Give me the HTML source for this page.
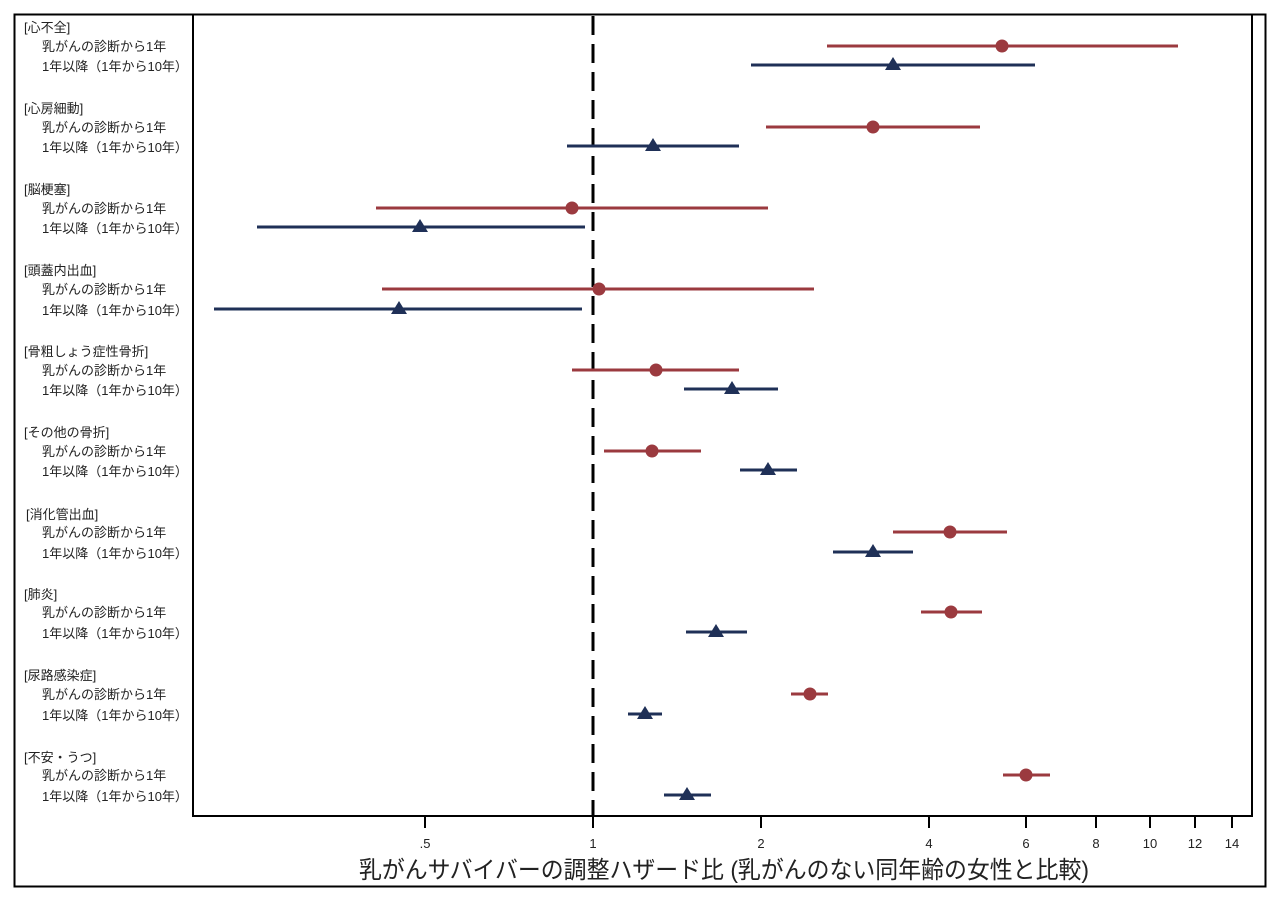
<!DOCTYPE html>
<html><head><meta charset="utf-8"><style>
body{margin:0;background:#fff}
svg text{font-family:"Liberation Sans","Noto Sans CJK JP",sans-serif;}
</style></head><body>
<svg width="1280" height="909" viewBox="0 0 1280 909" xmlns="http://www.w3.org/2000/svg">
<rect x="14.5" y="14.5" width="1251" height="872" fill="none" stroke="#000" stroke-width="2"/>
<line x1="193" y1="14" x2="193" y2="817" stroke="#000" stroke-width="2"/>
<line x1="1252" y1="14" x2="1252" y2="817" stroke="#000" stroke-width="2"/>
<line x1="193" y1="816" x2="1252" y2="816" stroke="#000" stroke-width="2"/>
<line x1="593" y1="16" x2="593" y2="816" stroke="#000" stroke-width="3" stroke-dasharray="19,9"/>
<g stroke="#000" stroke-width="2">
<line x1="425" y1="816" x2="425" y2="828"/><line x1="593" y1="816" x2="593" y2="828"/><line x1="761" y1="816" x2="761" y2="828"/><line x1="929" y1="816" x2="929" y2="828"/><line x1="1026" y1="816" x2="1026" y2="828"/><line x1="1096" y1="816" x2="1096" y2="828"/><line x1="1150" y1="816" x2="1150" y2="828"/><line x1="1195" y1="816" x2="1195" y2="828"/><line x1="1232" y1="816" x2="1232" y2="828"/>
</g>
<g font-size="13" text-anchor="middle" fill="#222">
<text x="425" y="848">.5</text><text x="593" y="848">1</text><text x="761" y="848">2</text><text x="929" y="848">4</text><text x="1026" y="848">6</text><text x="1096" y="848">8</text><text x="1150" y="848">10</text><text x="1195" y="848">12</text><text x="1232" y="848">14</text>
</g>
<text x="724" y="878" font-size="24" text-anchor="middle" fill="#222" textLength="730" lengthAdjust="spacingAndGlyphs">乳がんサバイバーの調整ハザード比 (乳がんのない同年齢の女性と比較)</text>
<g font-size="13" fill="#222">
<text x="24" y="32">[心不全]</text>
<text x="24" y="113">[心房細動]</text>
<text x="24" y="194">[脳梗塞]</text>
<text x="24" y="275">[頭蓋内出血]</text>
<text x="24" y="356">[骨粗しょう症性骨折]</text>
<text x="24" y="437">[その他の骨折]</text>
<text x="26" y="519">[消化管出血]</text>
<text x="24" y="599">[肺炎]</text>
<text x="24" y="680">[尿路感染症]</text>
<text x="24" y="762">[不安・うつ]</text>
</g>
<g font-size="13" fill="#222">
<text x="42" y="51">乳がんの診断から1年</text><text x="42" y="71">1年以降（1年から10年）</text>
<text x="42" y="132">乳がんの診断から1年</text><text x="42" y="152">1年以降（1年から10年）</text>
<text x="42" y="213">乳がんの診断から1年</text><text x="42" y="233">1年以降（1年から10年）</text>
<text x="42" y="294">乳がんの診断から1年</text><text x="42" y="315">1年以降（1年から10年）</text>
<text x="42" y="375">乳がんの診断から1年</text><text x="42" y="395">1年以降（1年から10年）</text>
<text x="42" y="456">乳がんの診断から1年</text><text x="42" y="476">1年以降（1年から10年）</text>
<text x="42" y="537">乳がんの診断から1年</text><text x="42" y="558">1年以降（1年から10年）</text>
<text x="42" y="617">乳がんの診断から1年</text><text x="42" y="638">1年以降（1年から10年）</text>
<text x="42" y="699">乳がんの診断から1年</text><text x="42" y="720">1年以降（1年から10年）</text>
<text x="42" y="780">乳がんの診断から1年</text><text x="42" y="801">1年以降（1年から10年）</text>
</g>
<g stroke="#9b3a3f" stroke-width="3">
<line x1="827" y1="46" x2="1178" y2="46"/>
<line x1="766" y1="127" x2="980" y2="127"/>
<line x1="376" y1="208" x2="768" y2="208"/>
<line x1="382" y1="289" x2="814" y2="289"/>
<line x1="572" y1="370" x2="739" y2="370"/>
<line x1="604" y1="451" x2="701" y2="451"/>
<line x1="893" y1="532" x2="1007" y2="532"/>
<line x1="921" y1="612" x2="982" y2="612"/>
<line x1="791" y1="694" x2="828" y2="694"/>
<line x1="1003" y1="775" x2="1050" y2="775"/>
</g>
<g fill="#9b3a3f">
<circle cx="1002" cy="46" r="6.5"/><circle cx="873" cy="127" r="6.5"/><circle cx="572" cy="208" r="6.5"/><circle cx="599" cy="289" r="6.5"/><circle cx="656" cy="370" r="6.5"/><circle cx="652" cy="451" r="6.5"/><circle cx="950" cy="532" r="6.5"/><circle cx="951" cy="612" r="6.5"/><circle cx="810" cy="694" r="6.5"/><circle cx="1026" cy="775" r="6.5"/>
</g>
<g stroke="#1f3057" stroke-width="3">
<line x1="751" y1="65" x2="1035" y2="65"/>
<line x1="567" y1="146" x2="739" y2="146"/>
<line x1="257" y1="227" x2="585" y2="227"/>
<line x1="214" y1="309" x2="582" y2="309"/>
<line x1="684" y1="389" x2="778" y2="389"/>
<line x1="740" y1="470" x2="797" y2="470"/>
<line x1="833" y1="552" x2="913" y2="552"/>
<line x1="686" y1="632" x2="747" y2="632"/>
<line x1="628" y1="714" x2="662" y2="714"/>
<line x1="664" y1="795" x2="711" y2="795"/>
</g>
<g fill="#1f3057">
<polygon points="893,57 885,70 901,70"/>
<polygon points="653,138 645,151 661,151"/>
<polygon points="420,219 412,232 428,232"/>
<polygon points="399,301 391,314 407,314"/>
<polygon points="732,381 724,394 740,394"/>
<polygon points="768,462 760,475 776,475"/>
<polygon points="873,544 865,557 881,557"/>
<polygon points="716,624 708,637 724,637"/>
<polygon points="645,706 637,719 653,719"/>
<polygon points="687,787 679,800 695,800"/>
</g>
</svg>
</body></html>
